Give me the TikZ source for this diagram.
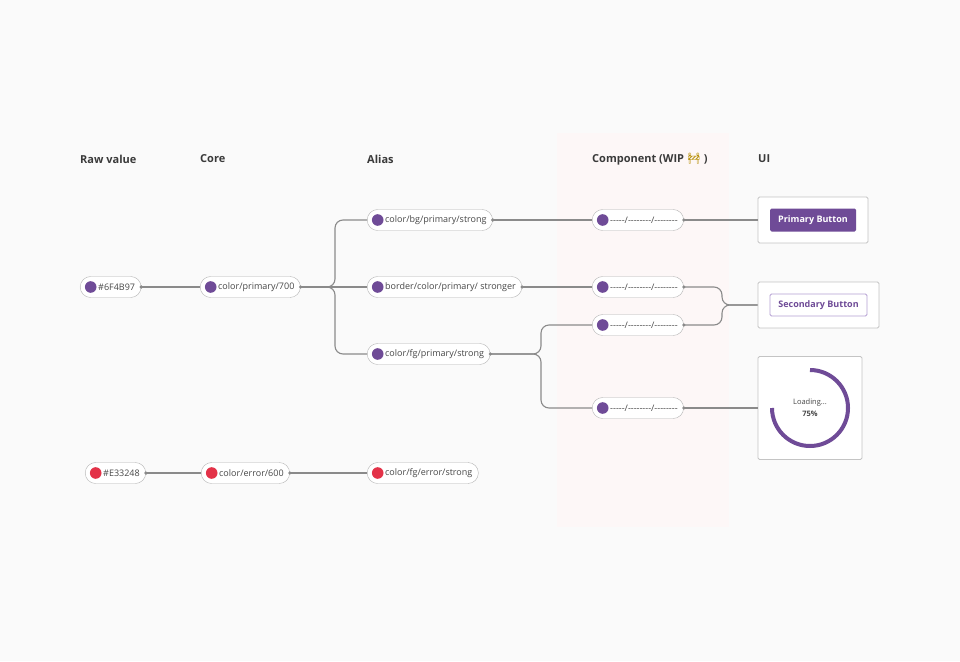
\documentclass[tikz,border=0pt]{standalone}
\usepackage{fontspec}
\setmainfont{Open Sans}
\newfontfamily\emojifont{Noto Emoji}
\definecolor{canvas}{HTML}{FAFAFA}
\definecolor{panelpink}{HTML}{FDF7F7}
\definecolor{tokenpurple}{HTML}{6F4B97}
\definecolor{tokenred}{HTML}{E33248}
\definecolor{linegray}{HTML}{8A8A8A}
\definecolor{pillgray}{HTML}{B3B3B3}
\definecolor{boxgray}{HTML}{C4C4C4}
\definecolor{textgray}{HTML}{474747}
\definecolor{headgray}{HTML}{3A3A3A}
\definecolor{lilac}{HTML}{B49FD2}
\definecolor{emojigold}{HTML}{B8900A}
\newcommand{\dashrun}[1]{\foreach \k in {1,...,#1}{-\kern0pt}}
\newcommand{\compdashes}{\dashrun{5}/\dashrun{8}/\dashrun{8}}
\begin{document}
\begin{tikzpicture}[x=1pt, y=-1pt,
    token/.style={draw=pillgray, fill=white, rounded corners=10.5pt,
      minimum height=21pt, inner xsep=6pt, inner ysep=0pt, anchor=west,
      font=\fontsize{9}{11}\selectfont, text=textgray,
      path picture={\fill[#1] ([xshift=10.5pt]path picture bounding box.west) circle (5.8pt);}},
    token/.default=tokenpurple,
    heading/.style={anchor=west, inner sep=0pt, font=\fontsize{11}{13}\selectfont\bfseries, text=headgray},
    link/.style={draw=linegray, line width=1.1pt},
    uibox/.style={draw=boxgray, fill=white, line width=0.9pt, rounded corners=1.5pt, inner sep=0pt},
    button/.style={rounded corners=1.5pt, inner sep=0pt, font=\fontsize{9}{11}\selectfont\bfseries}
  ]
  \useasboundingbox[fill=canvas] (0,0) rectangle (960,661);
  \fill[panelpink] (557,133) rectangle (729,527);

  % column headings
  \node[heading] (hraw) at (80,159) {Raw value};
  \node[heading] (hcore) at (200,159) {Core};
  \node[heading] (halias) at (367,159) {Alias};
  \node[heading] (hcomp) at (592,159) {Component (WIP {\emojifont\color{emojigold}🚧} )};
  \node[heading] (hui) at (758,159) {UI};

  % tokens
  \node[token] (raw1) at (80,287) {\hspace*{12pt}\#6F4B97};
  \node[token] (core1) at (200,287) {\hspace*{12pt}color/primary/700};
  \node[token] (bg) at (367,220) {\hspace*{12pt}color/bg/primary/strong};
  \node[token] (border) at (367,287) {\hspace*{12pt}border/color/primary/ stronger};
  \node[token] (fg) at (367,354) {\hspace*{12pt}color/fg/primary/strong};
  \node[token] (comp1) at (592,220) {\hspace*{12pt}\compdashes};
  \node[token] (comp2) at (592,287) {\hspace*{12pt}\compdashes};
  \node[token] (comp3) at (592,325) {\hspace*{12pt}\compdashes};
  \node[token] (comp4) at (592,408) {\hspace*{12pt}\compdashes};
  \node[token=tokenred] (raw2) at (85,473) {\hspace*{12pt}\#E33248};
  \node[token=tokenred] (core2) at (201,473) {\hspace*{12pt}color/error/600};
  \node[token=tokenred] (alias2) at (367,473) {\hspace*{12pt}color/fg/error/strong};

  % UI previews
  \node[uibox, minimum width=110pt, minimum height=46pt] (primarybox) at (813,220) {};
  \node[button, fill=tokenpurple, text=white, minimum width=86pt, minimum height=23pt] (primarybtn) at (813,220) {Primary Button};
  \node[uibox, minimum width=121pt, minimum height=46pt] (secondarybox) at (818.5,305) {};
  \node[button, draw=lilac, fill=white, text=tokenpurple, line width=0.8pt, minimum width=97pt, minimum height=22pt] (secondarybtn) at (818.5,305) {Secondary Button};
  \node[uibox, minimum width=104pt, minimum height=103pt] (loadbox) at (810,408) {};
  \draw[tokenpurple, line width=4pt] (810,370) arc[start angle=-90, end angle=180, radius=38];
  \node[font=\fontsize{7.5}{9}\selectfont, text=textgray] (loadtext) at (810,402.5) {Loading...};
  \node[font=\fontsize{7.5}{9}\selectfont\bfseries, text=textgray] (loadpct) at (810,413.5) {75\%};

  \coordinate (split) at (335,287);
  \coordinate (fork) at (541,354);
  \coordinate (join) at (722,305);

  % connectors
  \draw[link] (raw1.east) -- (core1.west);
  \draw[link] (core1.east) -- (border.west);
  \draw[link, rounded corners=8pt] (core1.east) -- (split) |- (bg.west);
  \draw[link, rounded corners=8pt] (core1.east) -- (split) |- (fg.west);
  \draw[link] (bg.east) -- (comp1.west);
  \draw[link] (border.east) -- (comp2.west);
  \draw[link, rounded corners=8pt] (fg.east) -- (fork) |- (comp3.west);
  \draw[link, rounded corners=8pt] (fg.east) -- (fork) |- (comp4.west);
  \draw[link] (comp1.east) -- (primarybox.west);
  \draw[link, rounded corners=8pt] (comp2.east) -| (join) -- (secondarybox.west);
  \draw[link, rounded corners=8pt] (comp3.east) -| (join) -- (secondarybox.west);
  \draw[link] (comp4.east) -- (loadbox.west);
  \draw[link] (raw2.east) -- (core2.west);
  \draw[link] (core2.east) -- (alias2.west);

  \foreach \n in {raw1, core1, bg, border, fg, comp1, comp2, comp3, comp4, raw2, core2}
    \fill[linegray] (\n.east) circle (1.8pt);
\end{tikzpicture}
\end{document}
